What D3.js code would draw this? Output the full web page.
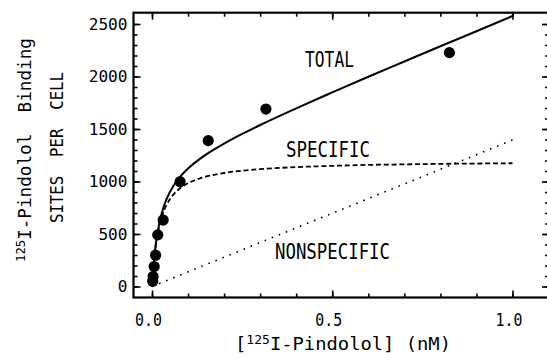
<!DOCTYPE html>
<html>
<head>
<meta charset="utf-8">
<script src="https://cdn.jsdelivr.net/npm/d3@7"></script>
<style>
  html, body { margin: 0; padding: 0; background: #fff; }
  svg { display: block; }
  text { font-family: "DejaVu Sans Mono", monospace; fill: #000; white-space: pre; }
</style>
</head>
<body>
<svg id="chart" width="547" height="358"></svg>
<script>
// ---- Data ----
const pointsX = [0.002, 0.003, 0.006, 0.010, 0.016, 0.031, 0.078, 0.156, 0.316, 0.825];
const pointsY = [50, 95, 190, 298, 492, 633, 998, 1389, 1690, 2227];

const curveX        = [0, 0.0025, 0.005, 0.01, 0.015, 0.02, 0.03, 0.04, 0.06, 0.08, 0.1, 0.13, 0.16, 0.2, 0.25, 0.3, 0.4, 0.5, 0.6, 0.7, 0.8, 0.9, 1.0];
const totalY        = [0, 118, 229, 389, 500, 599, 734, 830, 962, 1053, 1124, 1208, 1279, 1361, 1453, 1538, 1697, 1849, 1998, 2143, 2288, 2431, 2576];
const specificY     = [0, 122, 222, 375, 486, 571, 692, 774, 878, 941, 984, 1026, 1055, 1081, 1103, 1118, 1137, 1149, 1158, 1163, 1168, 1171, 1174];
const nonspecX      = [0, 1.0];
const nonspecY      = [0, 1395];

const xMajorTicks   = [0, 0.5, 1.0];
const xTickLabels   = ["0.0", "0.5", "1.0"];
const xMinorTicks   = [0, 0.1, 0.2, 0.3, 0.4, 0.5, 0.6, 0.7, 0.8, 0.9, 1.0];
const yMajorTicks   = [0, 500, 1000, 1500, 2000, 2500];
const yTickLabels   = ["0", "500", "1000", "1500", "2000", "2500"];
const yMinorTicks   = d3.range(0, 2600, 100);

// ---- Layout ----
const frame = { left: 133.5, top: 12.7, right: 549, bottom: 297.5 };
const x = d3.scaleLinear().domain([0, 1]).range([152, 512.5]);
const y = d3.scaleLinear().domain([0, 2500]).range([286.5, 24]);

const svg = d3.select("#chart");

// frame
svg.append("rect")
  .attr("x", frame.left).attr("y", frame.top)
  .attr("width", frame.right - frame.left).attr("height", frame.bottom - frame.top)
  .attr("fill", "none").attr("stroke", "#000").attr("stroke-width", 2.2);

function tickAxis(axisFn, scale, values, size, transform) {
  const g = svg.append("g").attr("transform", transform)
    .call(axisFn(scale).tickValues(values).tickSize(size).tickFormat(""));
  g.select(".domain").remove();
  g.selectAll(".tick line").attr("stroke", "#000").attr("stroke-width", 1.6);
  return g;
}
// inward ticks on all four sides
tickAxis(d3.axisLeft,   y, yMinorTicks, -4, `translate(${frame.left},0)`);
tickAxis(d3.axisLeft,   y, yMajorTicks, -7, `translate(${frame.left},0)`);
tickAxis(d3.axisRight,  y, yMinorTicks, -4, `translate(${frame.right},0)`);
tickAxis(d3.axisRight,  y, yMajorTicks, -7, `translate(${frame.right},0)`);
tickAxis(d3.axisBottom, x, xMinorTicks, -4, `translate(0,${frame.bottom})`);
tickAxis(d3.axisBottom, x, xMajorTicks, -7, `translate(0,${frame.bottom})`);
tickAxis(d3.axisTop,    x, xMinorTicks, -4, `translate(0,${frame.top})`);
tickAxis(d3.axisTop,    x, xMajorTicks, -7, `translate(0,${frame.top})`);

// tick labels
svg.selectAll(".ylab").data(yMajorTicks).enter().append("text")
  .attr("class", "ylab")
  .attr("x", 127.5).attr("y", d => y(d) + 5.5)
  .attr("text-anchor", "end")
  .attr("font-size", 16.5)
  .attr("textLength", (d, i) => yTickLabels[i].length * 9.7)
  .attr("lengthAdjust", "spacingAndGlyphs")
  .text((d, i) => yTickLabels[i]);

svg.selectAll(".xlab").data(xMajorTicks).enter().append("text")
  .attr("class", "xlab")
  .attr("x", d => x(d) - 3.5).attr("y", 326)
  .attr("text-anchor", "middle")
  .attr("font-size", 17)
  .attr("textLength", 27)
  .attr("lengthAdjust", "spacingAndGlyphs")
  .text((d, i) => xTickLabels[i]);

// curves
const line = (xs, ys, curve) => d3.line()
  .x((d, i) => x(xs[i])).y((d, i) => y(ys[i])).curve(curve)(xs);

svg.append("path").attr("d", line(nonspecX, nonspecY, d3.curveLinear))
  .attr("fill", "none").attr("stroke", "#000").attr("stroke-width", 1.6)
  .attr("stroke-dasharray", "1.6,6").attr("stroke-linecap", "butt");

svg.append("path").attr("d", line(curveX, specificY, d3.curveMonotoneX))
  .attr("fill", "none").attr("stroke", "#000").attr("stroke-width", 1.8)
  .attr("stroke-dasharray", "5,2.8");

svg.append("path").attr("d", line(curveX, totalY, d3.curveMonotoneX))
  .attr("fill", "none").attr("stroke", "#000").attr("stroke-width", 2);

// points
svg.selectAll(".pt").data(pointsX).enter().append("circle")
  .attr("class", "pt")
  .attr("cx", d => x(d)).attr("cy", (d, i) => y(pointsY[i]))
  .attr("r", 5.6).attr("fill", "#000");

// in-plot labels
const labels = [
  { t: "TOTAL",       x0: 305, w: 49,  base: 67.3 },
  { t: "SPECIFIC",    x0: 286, w: 84,  base: 156.7 },
  { t: "NONSPECIFIC", x0: 275, w: 115, base: 259.3 }
];
svg.selectAll(".clab").data(labels).enter().append("text")
  .attr("x", d => d.x0).attr("y", d => d.base)
  .attr("font-size", 21)
  .attr("textLength", d => d.w)
  .attr("lengthAdjust", "spacingAndGlyphs")
  .text(d => d.t);

// x axis title
const xt = svg.append("text")
  .attr("x", 235).attr("y", 350)
  .attr("font-size", 18)
  .attr("textLength", 216)
  .attr("lengthAdjust", "spacingAndGlyphs");
xt.append("tspan").text("[");
xt.append("tspan").attr("font-size", 12.5).attr("dy", -6.5).text("125");
xt.append("tspan").attr("dy", 6.5).text("I-Pindolol] (nM)");

// y axis titles (rotated)
const yt1 = svg.append("text")
  .attr("transform", "translate(31,262) rotate(-90)")
  .attr("x", 0).attr("y", 0)
  .attr("font-size", 18)
  .attr("textLength", 224)
  .attr("lengthAdjust", "spacingAndGlyphs");
yt1.append("tspan").attr("font-size", 12.5).attr("dy", -6.5).text("125");
yt1.append("tspan").attr("dy", 6.5).text("I-Pindolol  Binding");

svg.append("text")
  .attr("transform", "translate(63.3,223) rotate(-90)")
  .attr("x", 0).attr("y", 0)
  .attr("font-size", 18)
  .attr("textLength", 151)
  .attr("lengthAdjust", "spacingAndGlyphs")
  .text("SITES  PER  CELL");
</script>
</body>
</html>
